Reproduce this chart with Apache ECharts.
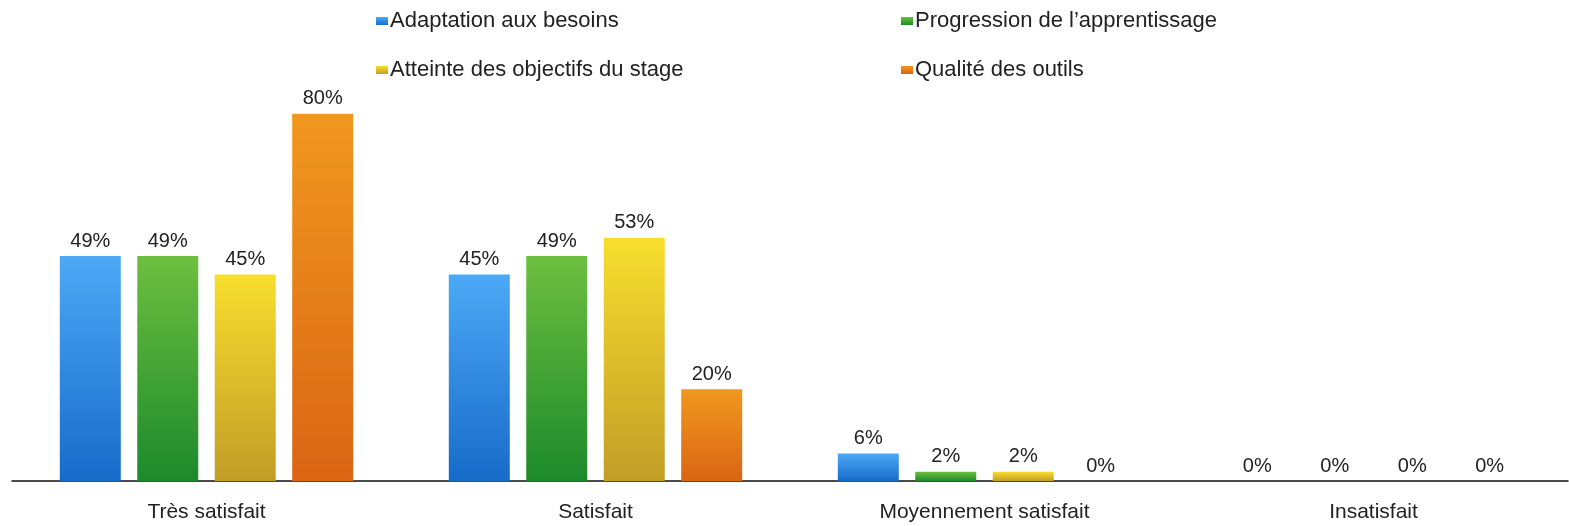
<!DOCTYPE html>
<html>
<head>
<meta charset="utf-8">
<script src="https://cdn.jsdelivr.net/npm/echarts@6/dist/echarts.min.js"></script>
<style>
  html, body { margin: 0; padding: 0; background: #fff; }
  #main { width: 1569px; height: 526px; }
</style>
</head>
<body>
<div id="main"></div>
<script>
var categories = ['Très satisfait', 'Satisfait', 'Moyennement satisfait', 'Insatisfait'];
var adaptation = [49, 45, 6, 0];
var progression = [49, 49, 2, 0];
var atteinte = [45, 53, 2, 0];
var qualite = [80, 20, 0, 0];

var seriesNames = ['Adaptation aux besoins', 'Progression de l\u2019apprentissage',
  'Atteinte des objectifs du stage', 'Qualité des outils'];

var chartDom = document.getElementById('main');
var myChart = echarts.init(chartDom);
var option;

function grad(top, bottom) {
  return new echarts.graphic.LinearGradient(0, 0, 0, 1, [
    { offset: 0, color: top },
    { offset: 1, color: bottom }
  ]);
}

var colors = [
  grad('#4da9f6', '#176bc9'),
  grad('#6dbf3f', '#1c8a2b'),
  grad('#f8de2e', '#c29d26'),
  grad('#f0981f', '#da6513')
];
var legendColors = ['#3a8ee0', '#3fa23a', '#e2c12a', '#e67f1a'];

function makeLegend(i, left, top) {
  return {
    data: [seriesNames[i]],
    left: left,
    top: top,
    padding: 0,
    itemWidth: 12,
    itemHeight: 8,
    icon: 'rect',
    textStyle: { fontFamily: 'Liberation Sans', fontSize: 22, color: '#222', padding: [0, 0, 0, -3] }
  };
}

var labelStyle = {
  show: true,
  position: 'top',
  distance: 5,
  formatter: '{c}%',
  fontFamily: 'Liberation Sans',
  fontSize: 20,
  color: '#222'
};

function makeSeries(i, data) {
  return {
    name: seriesNames[i],
    type: 'bar',
    data: data,
    barWidth: 61,
    barGap: '27%',
    itemStyle: { color: colors[i] },
    label: labelStyle
  };
}

option = {
  color: legendColors,
  animation: false,
  legend: [
    makeLegend(0, 376, 10),
    makeLegend(1, 901, 10),
    makeLegend(2, 376, 59),
    makeLegend(3, 901, 59)
  ],
  grid: { left: 12, right: 1, top: 22, bottom: 45 },
  xAxis: {
    type: 'category',
    data: categories,
    axisLine: { lineStyle: { color: '#111', width: 1.5 } },
    axisTick: { show: false },
    axisLabel: { margin: 21, fontFamily: 'Liberation Sans', fontSize: 21, color: '#222' }
  },
  yAxis: {
    type: 'value',
    min: 0,
    max: 100,
    show: false,
    splitLine: { show: false }
  },
  series: [
    makeSeries(0, adaptation),
    makeSeries(1, progression),
    makeSeries(2, atteinte),
    makeSeries(3, qualite)
  ]
};

if (chartDom && myChart) {
  myChart.setOption(option);
} else {
  console.error('Failed to initialize the chart');
}
</script>
</body>
</html>
